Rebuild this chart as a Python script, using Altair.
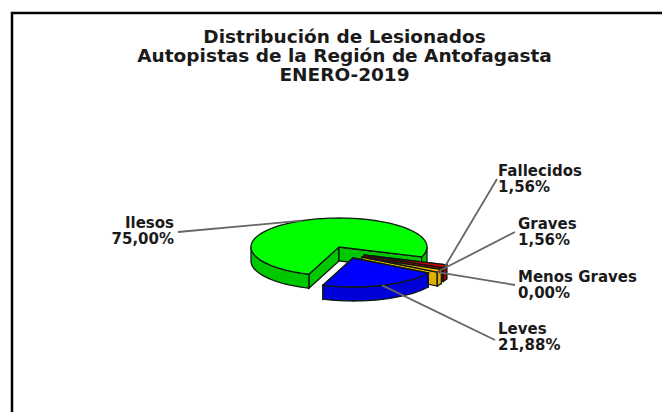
import math
import altair as alt

# --- values ---
categories = ["Ilesos", "Fallecidos", "Graves", "Menos Graves", "Leves"]
percents = [75.00, 1.56, 1.56, 0.00, 21.88]
labels_pct = ["75,00%", "1,56%", "1,56%", "0,00%", "21,88%"]
title_lines = ["Distribución de Lesionados",
               "Autopistas de la Región de Antofagasta",
               "ENERO-2019"]

# --- styling / layout ---
top_colors = ["#00FF00", "#E00000", "#FFC800", "#FFFF00", "#0000FF"]
side_colors = ["#00C800", "#A00000", "#E0B000", "#C0C000", "#0000D8"]
start_angle = 200.0      # degrees clockwise from the top of the ellipse
RX, RY, DEPTH = 88.0, 29.0, 14.0
apex = {"Ilesos": (339, 247), "Fallecidos": (364, 255), "Graves": (362, 257),
        "Menos Graves": (362, 257), "Leves": (353, 258)}
label_xy = {"Ilesos": (174, 223), "Fallecidos": (498, 171), "Graves": (518, 224),
            "Menos Graves": (518, 277), "Leves": (498, 329)}
label_anchor = {"Ilesos": (178, 232), "Fallecidos": (497, 179), "Graves": (515, 232),
                "Menos Graves": (515, 285), "Leves": (495, 340)}
draw_order = ["Ilesos", "Fallecidos", "Graves", "Leves"]
OUTLINE = "#101810"
FONT = "DejaVu Sans"
PROJ = dict(type="identity", scale=1, translate=[-8, -8])


def rim(c, a):
    r = math.radians(a)
    return (c[0] + RX * math.sin(r), c[1] - RY * math.cos(r))


def arc(c, a0, a1):
    n = max(2, int(abs(a1 - a0) / 3) + 2)
    return [rim(c, a0 + (a1 - a0) * i / (n - 1)) for i in range(n)]


def down(pts):
    return [(x, y + DEPTH) for x, y in pts]


def feature(kind, pts, fill, stroke, width=1.3):
    if kind == "Polygon":
        ring = [list(p) for p in pts] + [list(pts[0])]
        geom = {"type": "Polygon", "coordinates": [ring]}
    else:
        geom = {"type": "LineString", "coordinates": [list(p) for p in pts]}
    return {"type": "Feature", "geometry": geom,
            "properties": {"fill": fill, "stroke": stroke, "w": width}}


# slice angle spans, clockwise from the start angle
spans = {}
a = start_angle
for cat, pct in zip(categories, percents):
    spans[cat] = (a, a + pct * 3.6)
    a += pct * 3.6

colors = {c: (t, s) for c, t, s in zip(categories, top_colors, side_colors)}
polys = []
for cat in draw_order:
    a0, a1 = spans[cat]
    c = apex[cat]
    top, side = colors[cat]
    # radial faces
    for e in (a0, a1):
        p = rim(c, e)
        polys.append(feature("Polygon", [c, p, (p[0], p[1] + DEPTH), (c[0], c[1] + DEPTH)],
                             side, OUTLINE))
    # outer wall: only the part that faces the viewer (90..270 modulo 360)
    for k in (0, 1):
        lo, hi = max(a0, 90 + 360 * k), min(a1, 270 + 360 * k)
        if hi > lo:
            ar = arc(c, lo, hi)
            polys.append(feature("Polygon", ar + down(ar)[::-1], side, OUTLINE))
    # top
    polys.append(feature("Polygon", [c] + arc(c, a0, a1), top, OUTLINE))

lines = []
for cat in categories:
    a0, a1 = spans[cat]
    lines.append(feature("LineString", [label_anchor[cat], rim(apex[cat], (a0 + a1) / 2)],
                         "transparent", "#666666", 1.8))

frame = [feature("LineString", [(12, 420), (12, 13), (669, 13)], "transparent", "#000000", 2.5)]


def shapes(feats):
    return (alt.Chart(alt.Data(values=feats)).mark_geoshape(clip=False).encode(
        color=alt.Color("properties.fill:N", scale=None, legend=None),
        stroke=alt.Stroke("properties.stroke:N", scale=None, legend=None),
        strokeWidth=alt.StrokeWidth("properties.w:Q", scale=None, legend=None),
    ).project(**PROJ))


label_rows = []
for cat, pct in zip(categories, labels_pct):
    x, y = label_xy[cat]
    label_rows.append({"t": cat, "lon": x, "lat": y, "a": "r" if x < 300 else "l"})
    label_rows.append({"t": pct, "lon": x, "lat": y + 16, "a": "r" if x < 300 else "l"})

base_text = alt.Chart(alt.Data(values=[r for r in label_rows if r["a"] == "l"])).mark_text(
    font=FONT, fontWeight="bold", fontSize=15, align="left", color="#1a1a1a"
).encode(longitude="lon:Q", latitude="lat:Q", text="t:N").project(**PROJ)
base_text_r = alt.Chart(alt.Data(values=[r for r in label_rows if r["a"] == "r"])).mark_text(
    font=FONT, fontWeight="bold", fontSize=15, align="right", color="#1a1a1a"
).encode(longitude="lon:Q", latitude="lat:Q", text="t:N").project(**PROJ)

title_rows = [{"t": t, "lon": 344.5, "lat": 37 + 19 * i} for i, t in enumerate(title_lines)]
title_text = alt.Chart(alt.Data(values=title_rows)).mark_text(
    font=FONT, fontWeight="bold", fontSize=18.5, align="center", color="#1a1a1a"
).encode(longitude="lon:Q", latitude="lat:Q", text="t:N").project(**PROJ)

chart = alt.layer(shapes(frame), shapes(polys), shapes(lines), base_text, base_text_r, title_text).properties(
    width=654, height=404, padding=0, autosize=alt.AutoSizeParams(type="none"),
    background="white",
).configure_view(stroke=None)

chart.save("out.html", embed_options={"renderer": "svg", "actions": False})
